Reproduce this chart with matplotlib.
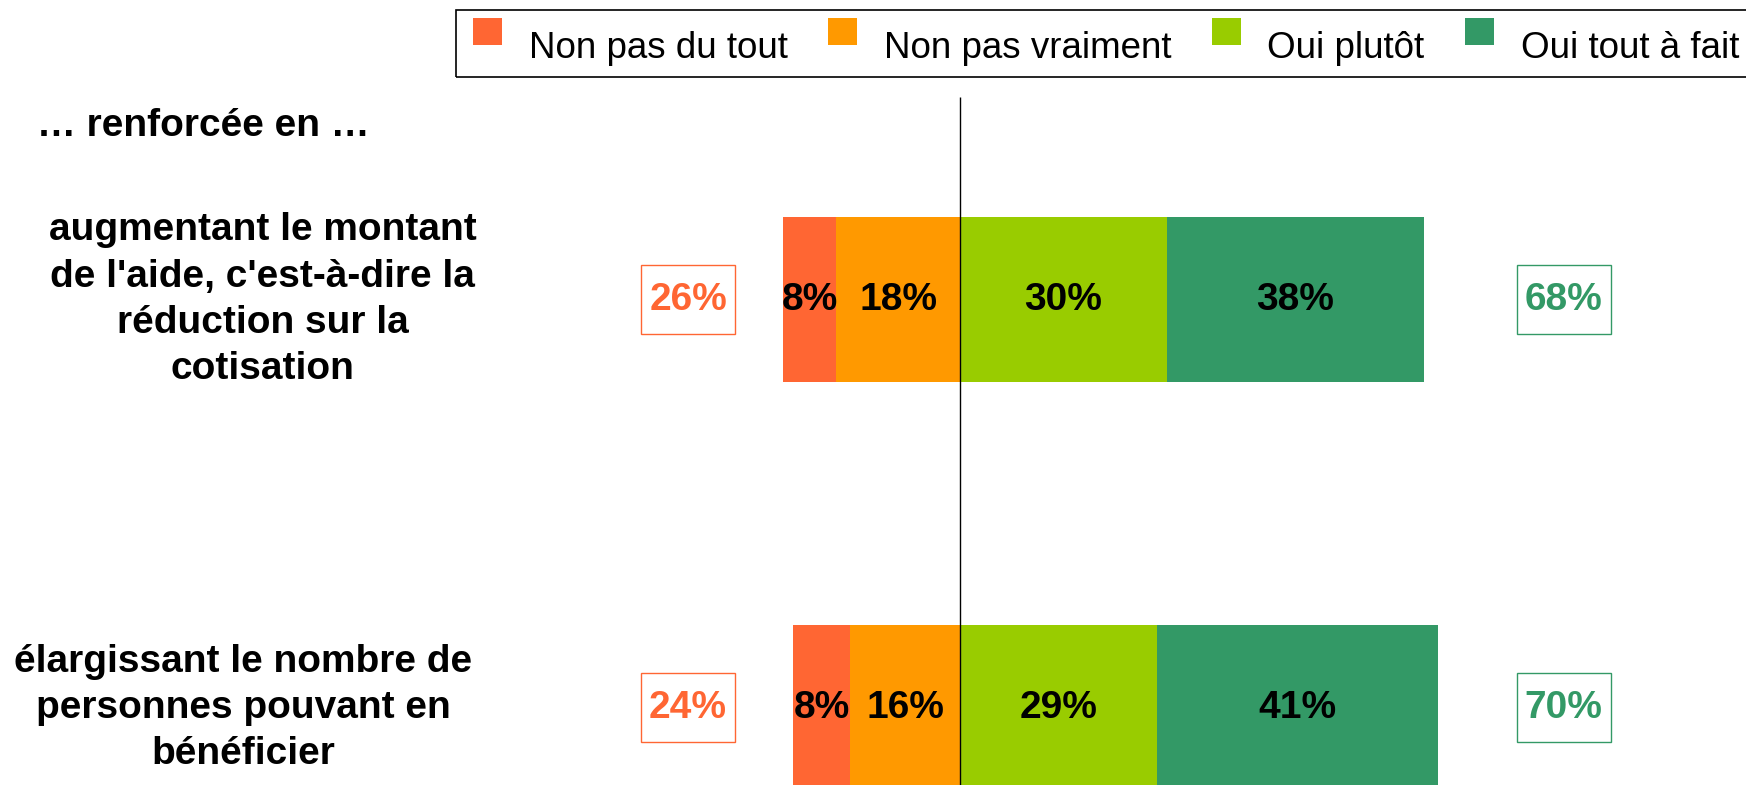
import matplotlib.pyplot as plt
from matplotlib.patches import Rectangle
from matplotlib.legend_handler import HandlerPatch

plt.rcParams['font.family'] = ['Liberation Sans', 'DejaVu Sans']

categories = ["augmentant le montant\nde l'aide, c'est-à-dire la\nréduction sur la\ncotisation",
              "élargissant le nombre de\npersonnes pouvant en\nbénéficier"]
non_pas_du_tout = [7.9, 8.3]
non_pas_vraiment = [18.2, 16.2]
oui_plutot = [30.4, 29.0]
oui_tout_a_fait = [37.9, 41.3]
total_non = [26, 24]
total_oui = [68, 70]

series_names = ['Non pas du tout', 'Non pas vraiment', 'Oui plutôt', 'Oui tout à fait']
colors = ['#FF6633', '#FF9900', '#99CC00', '#339966']

fig = plt.figure(figsize=(17.46, 7.85), dpi=100)
ax = fig.add_axes([0, 0, 1, 1])
ax.set_xlim(-141.2, 115.6)
ax.set_ylim(1.189, -0.735)
ax.axis('off')

y = list(range(len(categories)))
h = 0.404

# negatives go left of the zero line, positives to the right
left_red = [-(a + b) for a, b in zip(non_pas_du_tout, non_pas_vraiment)]
left_orange = [-b for b in non_pas_vraiment]
b1 = ax.barh(y, non_pas_du_tout, left=left_red, height=h, color=colors[0])
b2 = ax.barh(y, non_pas_vraiment, left=left_orange, height=h, color=colors[1])
b3 = ax.barh(y, oui_plutot, left=0, height=h, color=colors[2])
b4 = ax.barh(y, oui_tout_a_fait, left=oui_plutot, height=h, color=colors[3])

for bars, vals in [(b1, non_pas_du_tout), (b2, non_pas_vraiment), (b3, oui_plutot), (b4, oui_tout_a_fait)]:
    for rect, v in zip(bars, vals):
        ax.text(rect.get_x() + rect.get_width() / 2, rect.get_y() + rect.get_height() / 2,
                f'{round(v)}%', ha='center', va='center', fontsize=28, fontweight='bold', color='black')

ax.vlines(0, -0.4975, 1.189, color='black', linewidth=1)

box_w, box_h = 13.8, 0.169
label_x = [-102.6, -105.4]
for i in y:
    for xc, txt, col in [(-40, f'{total_non[i]}%', colors[0]), (88.8, f'{total_oui[i]}%', colors[3])]:
        ax.add_patch(Rectangle((xc - box_w / 2, i - box_h / 2), box_w, box_h,
                               fc='white', ec=col, lw=1))
        ax.text(xc, i, txt, ha='center', va='center', fontsize=28, fontweight='bold', color=col)
    ax.text(label_x[i], i, categories[i], ha='center', va='center', multialignment='center',
            fontsize=28, fontweight='bold', linespacing=1.37)

fig.text(37 / 1746, 1 - 126 / 785, '… renforcée en …', ha='left', va='center',
         fontsize=28, fontweight='bold')


def top_square(legend, orig_handle, xdescent, ydescent, width, height, fontsize):
    # legend squares sit a bit above the text centre
    return Rectangle((-xdescent, -ydescent + 0.36 * fontsize), width, height)


# legend frame drawn on its own, it runs past the right edge of the picture
fig.patches.append(Rectangle((456 / 1746, 1 - 77 / 785), 1320 / 1746, 67 / 785, transform=fig.transFigure,
                             fill=False, ec='black', lw=1.2))
leg = fig.legend(handles=[b1[0], b2[0], b3[0], b4[0]], labels=series_names,
                 loc='upper left', bbox_to_anchor=(473 / 1746, 1 - 30.5 / 785),
                 ncol=4, fontsize=26.5, frameon=False,
                 handlelength=0.79, handleheight=0.73, handletextpad=0.73, columnspacing=1.09,
                 borderpad=0, borderaxespad=0,
                 handler_map={Rectangle: HandlerPatch(patch_func=top_square)})

fig.savefig('out.png', dpi=100)
